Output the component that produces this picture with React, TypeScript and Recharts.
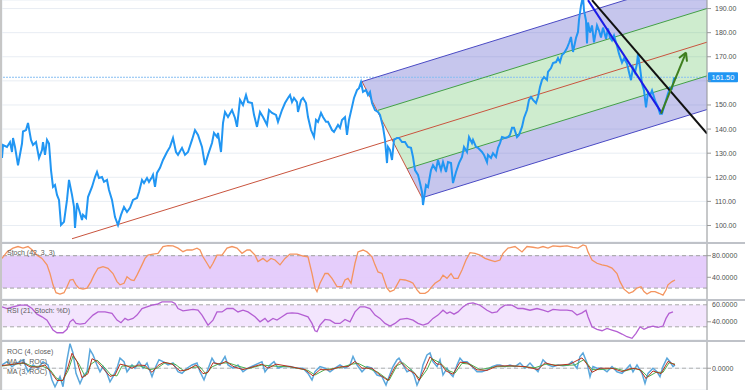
import React from 'react';
import { ComposedChart, Line, Area, XAxis, YAxis, CartesianGrid, ReferenceLine, ReferenceArea } from 'recharts';

const FONT = '"Liberation Sans", Arial, Helvetica, sans-serif';
const BAR_MIN = 2;
const BAR_MAX = 707;

// ---------- axes / grid ----------
const gridBars = [86, 169, 252, 333, 415, 498, 581, 665];
const priceTicks = [100, 110, 120, 130, 140, 150, 160, 170, 180, 190];
const stochTicks = [40, 80];
const rsiTicks = [40, 60];
const rocTicks = [0];
const lastPrice = 161.5;

// ---------- price ----------
const priceBar = [2,3,7,10,12,13,15,18,22,23,26,28,31,33,36,39,42,43,45,47,49,51,53,55,57,59,61,64,67,69,72,74,75,77,80,82,83,86,88,92,95,97,99,102,104,107,109,112,115,118,121,124,127,130,133,137,139,142,144,147,149,152,153,155,157,160,163,167,170,173,176,178,182,185,188,192,195,198,202,205,208,212,214,217,218,221,223,225,228,232,235,237,240,243,246,248,252,254,257,260,263,267,269,272,276,278,282,285,288,290,292,294,297,298,301,303,306,308,311,314,316,318,321,323,326,328,332,334,338,340,342,345,347,349,352,354,357,359,361,363,366,368,370,372,375,378,380,383,385,387,388,390,392,394,397,399,402,405,408,411,413,415,418,420,422,423,426,428,431,433,436,438,441,443,446,448,451,453,456,459,462,464,467,469,472,473,476,478,482,484,487,488,491,493,496,498,500,502,505,508,510,512,514,517,519,522,524,527,529,531,533,536,538,540,542,544,547,548,551,553,556,558,560,562,564,567,569,571,573,576,578,579,581,583,584,586,587,588,590,592,594,597,599,601,603,606,608,610,612,614,617,619,622,624,627,629,631,633,635,637,638,640,642,644,646,648,650,652,655,658,660,662,665,668,670,672,674,677];
const priceClose = [128,133.4,132.6,134.6,130.5,136.3,132.6,125,134,139,139.6,142.5,135.5,133.4,134.6,128,131.3,134.6,129.3,135.5,134,123,116,116.8,112.7,110.6,100.2,101.5,110.6,118.9,112.7,107.7,99,109.3,105.2,102.3,104.4,103.1,111.8,116,120.1,122.2,119.7,120.1,118.1,118.9,114.7,110.6,103.5,100.2,104.4,107.7,105.6,107.3,110.6,111.4,113.9,118.9,117.6,119.7,118.1,120.1,121,116,121.8,123.9,127.2,130.5,132.6,136.3,130.5,129.3,132.2,129.3,130.5,135.5,139.6,137.6,132.6,125.1,129.3,134.2,138.4,136.7,138.4,130.5,142.5,147.1,145,147.9,144.6,140.9,152.1,150,154.1,151.2,150.8,145.9,140.9,147.1,145,141.7,147.9,146.7,145.9,143,147.9,150.8,152.9,154.1,151.2,152.9,151.2,147.1,152,152.9,150.8,145,139.6,136.7,143.8,143,146.7,145,143,143,139.6,138.8,141.7,140.5,143.8,145,137.6,143.8,149.2,152.9,156.2,157,159.5,155.4,156.2,154.1,155.4,150.8,147.9,147.1,145.9,140.9,135.5,125.9,132.6,131.3,127.2,135.5,136.3,136.3,134.6,134.6,132.6,132.2,128.4,123,121,117.6,113.9,108.5,116.8,116,123,125,123,127.2,123,126.3,122.2,126.3,125.9,117.6,122.2,125.9,128.4,132.6,130.5,136.7,134.2,135.5,132.6,132.2,130.5,129.3,126.3,129.3,128,130,128.4,132.2,134.2,136.7,136.3,136.7,137.6,140.5,140.5,136.7,137.6,140.9,144.6,147.9,152.1,153.3,152.1,150.8,153.3,157.5,160.4,161.6,160.4,163.7,165.3,167.4,167.8,169.5,167.8,170.7,171.5,173.6,175.7,178.2,172,177.8,180.3,185.3,191.2,195,189.2,185,175.5,184.2,180,183,176,183,180.9,178,182.1,177.5,181.7,178,176.8,178.8,174.6,171.3,167.6,169.3,167.2,163.6,160.3,165.5,163.4,167.2,171.3,165.5,158.9,156,149,155.2,153.9,156,151.9,149.2,146.4,146.4,150.6,154.7,157.2,156.8,161,161.5];

// ---------- drawings (bar, price) ----------
const forkPivot = [72, 94.5];
const forkHigh = [362, 159.7];
const forkLow = [422, 111.5];
const trendBlue = [[588, 193.5], [662, 146.5]];
const trendBlack = [[592, 193.5], [707, 138.1]];
const arrowShaft = [[661, 146.4], [686, 171.7]];
const arrowWingA = [[679, 169.5], [686, 171.7]];
const arrowWingB = [[686, 171.7], [687, 168.0]];

// ---------- Stoch ----------
const stochBar = [2,7,13,18,23,28,32,37,42,47,50,53,56,60,64,67,70,73,76,79,83,87,91,94,98,103,108,113,117,120,124,127,131,134,137,142,145,148,153,158,163,168,173,178,183,187,192,197,200,203,207,210,213,217,222,227,232,237,242,247,250,255,258,263,267,271,275,280,285,290,297,303,308,312,315,317,320,325,328,332,337,342,345,348,351,355,358,363,367,372,375,378,382,387,390,394,397,400,405,410,413,417,420,425,428,432,435,440,443,447,451,454,458,462,466,470,475,480,485,490,495,500,503,508,515,522,527,533,538,543,548,553,560,567,573,578,583,586,588,592,597,602,607,612,617,620,624,629,633,637,641,644,647,651,655,659,663,666,668,672,675];
const stochK = [75,87,94,97,94,97,91,81,75,63,47,26,11.5,9,11.5,22.6,35,36,26,20,18,20,32,44,56.7,59.6,56.7,47,32,26,29,41,35,34,44,63,75,81,83,84.4,97,98.5,98,94,87.4,90.5,90.5,94,90.5,78,66,56.7,66,81,81,94,97,94,84.4,90.5,90.5,81,69,75,69,75,72,63,75,83,83,79.4,78,47,20,13.5,29,47,47,38,22.6,22.6,35,38,29,66,87,90.5,87,78,63,50,47,20,13.5,16.5,26,36,35,32,29,16.5,10.4,10.4,13.5,22.6,29,35,44,38,47,38,38,53.5,72,85.6,84.4,81,75,72,69,72,84.4,94,97,87,97,95.6,94,97,94,98,97,98,95.6,94,100,98,87,72,66,63,61,57,47,32,18,10.4,13.5,20,22.6,13.5,9,13.5,13.5,10.4,7,16.5,26,32,35];

// ---------- RSI (of Stoch %D) ----------
const rsiBar = [2,7,13,20,27,32,37,42,47,50,53,57,63,67,70,73,76,80,85,88,93,98,105,112,117,121,125,128,133,137,142,147,152,157,162,167,172,175,178,183,188,193,198,202,205,208,213,217,222,227,233,238,243,248,255,260,265,268,273,277,282,287,292,298,303,308,312,315,317,320,325,330,335,340,345,350,355,360,365,370,375,380,385,390,395,400,407,413,418,423,428,433,438,443,447,450,454,458,463,468,473,480,487,492,497,500,505,512,518,523,530,537,543,548,553,560,567,572,577,582,586,588,592,597,602,607,612,617,622,627,632,636,640,644,648,653,658,663,666,669,673];
const rsiVal = [54,52.5,54,55.6,55.6,52.5,47.2,44.7,41.6,36.9,32.2,29.7,29.7,32.9,40,42.2,38.5,37.9,38.5,41.6,46.3,49.3,49.3,47.9,41.6,39.1,43.2,41.6,43.2,46.3,52.5,54,55.6,56.5,58.7,58.7,58.7,57.2,52.5,50.3,50.9,51.6,50.9,46.3,41.6,36.9,41.6,49.3,49.3,52.5,52.5,49.3,50.9,49.3,44.7,40,43.2,40,43.2,41.6,44.7,47.9,48.4,47.9,46.3,44.7,38.5,31.6,30.7,36.9,42.2,41.6,38.5,38.5,42.2,40,49.3,54,54,52.5,46.3,43.2,38.5,36,38.5,42.2,43.2,41.6,38.5,36.9,38.5,43.2,46.3,50.9,47.9,49.3,47.2,49.3,54,57.2,57.8,55.6,50.9,48.4,49.3,52.5,55.6,55.6,52.5,52.5,50.9,52.5,50.9,49.3,51.6,50.9,50.9,50.3,46.3,48.4,50.9,44.7,35.3,32.9,31.6,33.8,32.2,30.7,28.5,26,24.5,29.2,35.3,32.9,34.8,36,34.8,36,43.2,47.9,49.3];

// ---------- ROC ----------
const rocBar = [2,7,12,17,23,28,33,38,43,48,52,55,60,63,67,70,73,76,80,83,87,90,93,97,100,103,107,110,113,117,120,124,127,132,135,139,143,147,152,155,159,163,168,173,178,182,187,192,197,200,204,207,212,215,220,225,228,233,238,243,248,255,262,265,270,274,278,283,290,297,303,308,312,315,320,325,330,335,340,345,350,353,357,362,367,372,377,382,386,389,393,397,399,403,407,411,414,417,420,423,427,430,433,437,440,443,447,450,453,457,460,463,467,472,477,482,487,492,497,500,505,510,515,520,525,530,533,538,543,548,553,558,563,568,572,577,580,583,587,590,593,597,602,607,612,617,622,627,630,633,637,642,645,648,653,657,660,663,667,670,673,675];
const rocVal = [1.2,2.4,0.6,1.9,3.1,-1.3,1.2,0,2.4,1.2,-4.3,-6.8,-3.1,-6.8,3.1,9,5.6,-1.9,-5.6,-3.1,-1.3,6.8,4.9,1.2,-1.3,0.6,-1.9,-5,-3.1,0,3.7,2.4,-1.3,1.2,0,2.4,0,1.9,-3.1,0,3.1,2.4,1.2,1.9,-1.3,-1.9,0,1.2,1.9,-1.3,-4.3,-1.3,3.7,1.9,1.2,4.3,1.2,0,1.2,-1.3,0,1.2,2.4,-1.3,1.2,2.4,0,0.6,0.6,0,0,-1.9,-4.3,-1.3,0.6,0,-1.3,0,1.2,0,1.2,4.3,1.2,-1.3,0.6,0,-2.5,-3.1,-6.2,-3.1,0.6,3.1,3.7,1.2,-1.3,-0.6,-2.5,-6.2,-3.7,1.2,4.9,5.6,2.4,0.6,3.1,-2.5,0,-1.9,-3.1,1.2,3.7,2.4,2.4,0.6,-1.3,-1.3,-0.6,0.6,1.2,1.2,0.6,1.2,0.6,1.9,0,1.9,0.6,-1.3,3.1,1.2,0.6,1.2,0.9,1.2,2.4,0,4.3,5.6,1.9,-3.1,0.6,0,0,-1.3,0.6,-1.3,-1.9,0,1.2,-1.3,1.2,-1.9,-5.6,-1.9,0,-1.3,-3.1,0.6,3.7,2.4,0.6,1.2];
const maRedBar = [2,12,23,30,38,45,52,57,63,68,72,77,82,88,92,97,103,110,115,120,126,132,138,145,152,158,164,172,180,188,196,203,208,213,220,226,234,243,250,262,268,276,290,305,313,320,330,340,348,355,362,372,380,388,395,400,408,415,419,425,430,437,441,446,453,460,467,477,487,497,510,525,538,545,555,570,582,588,592,600,612,622,632,640,646,653,661,668,675];
const maRedVal = [1,1.4,2,0.5,0.4,1.2,-2,-4.5,-4.5,0.5,5.5,2.5,-3.5,-2,3.5,2.5,0,-3,-2.5,1.5,1,0,1.2,1,-1.5,1,2.2,1.5,-1,-0.5,1.2,-2,-1.5,2,1.5,2.5,0.5,-0.5,0.2,1.5,0,1.5,0.6,-0.5,-2.8,-0.5,-0.6,0.5,0.6,2.5,0,0,-2.5,-4.5,0.5,2.5,-0.5,-2,-4.5,0,4.2,1.5,1.5,-1,-2.2,2.2,2,-0.6,-0.8,0.8,0.9,0.6,-0.5,2,1,1.5,3.8,1,-1.5,0,0,-1.2,0,-0.5,-3.8,-1,-2,2.5,1.2];
const maGreenBar = [2,15,25,33,42,50,56,62,68,73,79,85,91,97,104,111,117,122,130,140,150,157,165,175,184,192,200,206,212,220,228,238,248,262,272,290,308,315,325,340,352,358,368,378,389,397,403,412,420,427,432,440,448,455,462,470,480,495,515,535,546,560,575,584,592,600,615,625,635,642,648,656,663,669,675];
const maGreenVal = [0.8,1.5,1.8,0.6,0.8,-0.5,-3.5,-4.8,-1,4.5,1.5,-3,1.5,3,0.5,-2.5,-2.8,0.8,0.8,0.8,-0.5,0,2,1.5,-1,0.3,0.5,-2.2,0.5,1.8,2,0.8,-0.2,1.2,0.8,0.5,-0.8,-2.5,-0.5,0.2,1.5,1.8,0,-1.5,-4.5,1,2,-0.8,-4,-0.5,3.5,2,-0.8,-1.8,1.8,1.5,-0.5,0.5,0.8,0.2,1.5,1,1.2,3.2,-0.5,-0.5,0,-1,0,-1,-3.2,-1.5,-1.5,2,1.5];

// ---------- build rows ----------
function buildMainRows() {
  const priceMap = new Map<number, number>();
  priceBar.forEach((b, i) => priceMap.set(b, priceClose[i]));
  const [ax, ay] = forkPivot;
  const [bx, by] = forkHigh;
  const [cx, cy] = forkLow;
  const mx = (bx + cx) / 2;
  const my = (by + cy) / 2;
  const slope = (my - ay) / (mx - ax);
  const med = (d: number) => ay + slope * (d - ax);
  const upT = (d: number) => by + slope * (d - bx);
  const loT = (d: number) => cy + slope * (d - cx);
  const edgeAt = (d: number) => (d < cx ? by + ((cy - by) * (d - bx)) / (cx - bx) : -Infinity);
  const seg = (pts: number[][], key: string, rowsMap: Map<number, any>) => {
    pts.forEach(([b, v]) => {
      rowsMap.get(b)[key] = v;
    });
  };
  const rows: any[] = [];
  const rowsMap = new Map<number, any>();
  for (let b = BAR_MIN; b <= BAR_MAX; b++) {
    const r: any = { bar: b };
    if (priceMap.has(b)) r.close = priceMap.get(b);
    if (b >= ax) r.median = med(b);
    if (b >= bx) {
      const u = upT(b);
      const l = loT(b);
      const m = med(b);
      const ug = (u + m) / 2;
      const lg = (m + l) / 2;
      const edge = edgeAt(b);
      const band = (lo: number, hi: number) => {
        const a = Math.max(lo, edge);
        return a < hi ? [a, hi] : undefined;
      };
      r.upperTine = u;
      if (b >= cx) r.lowerTine = l;
      if (ug >= edge) r.upperGreen = ug;
      if (lg >= edge) r.lowerGreen = lg;
      r.bandTop = band(ug, u);
      r.bandMid = band(lg, ug);
      r.bandBot = band(l, lg);
    }
    rows.push(r);
    rowsMap.set(b, r);
  }
  seg([forkHigh, forkLow], 'edgeBC', rowsMap);
  seg(trendBlue, 'trendBlue', rowsMap);
  seg(trendBlack, 'trendBlack', rowsMap);
  seg(arrowShaft, 'arrowShaft', rowsMap);
  seg(arrowWingA, 'arrowWingA', rowsMap);
  seg(arrowWingB, 'arrowWingB', rowsMap);
  return rows;
}

function pairRows(bars: number[], vals: number[], key: string) {
  return bars.map((b, i) => ({ bar: b, [key]: vals[i] }));
}

function buildRocRows() {
  const m = new Map<number, any>();
  const add = (bars: number[], vals: number[], key: string) => {
    bars.forEach((b, i) => {
      if (!m.has(b)) m.set(b, { bar: b });
      m.get(b)[key] = vals[i];
    });
  };
  add(rocBar, rocVal, 'roc');
  add(maRedBar, maRedVal, 'maA');
  add(maGreenBar, maGreenVal, 'maB');
  return Array.from(m.values()).sort((a, b) => a.bar - b.bar);
}

const mainRows = buildMainRows();
const stochRows = pairRows(stochBar, stochK, 'k');
const rsiRows = pairRows(rsiBar, rsiVal, 'rsi');
const rocRows = buildRocRows();

const GRID = '#e8edf3';
const AXIS = '#9a9a9a';
const tickStyle = { fontSize: 7, fill: '#505050', fontFamily: FONT };
const MARGIN = { top: 0, right: 0, bottom: 0, left: 2 };

const xAxis = (
  <XAxis
    type="number"
    dataKey="bar"
    domain={[BAR_MIN, BAR_MAX]}
    ticks={gridBars}
    allowDataOverflow
    height={0}
    tick={false}
    axisLine={false}
    tickLine={false}
  />
);

const PriceTag = (props: any) => {
  const vb = props.viewBox || {};
  const x = (vb.x || 0) + (vb.width || 0) + 1;
  const y = vb.y || 0;
  return (
    <g>
      <rect x={x} y={y - 5} width={30} height={10} rx={1} fill="#2196f3" />
      <text x={x + 15} y={y} dy="0.35em" textAnchor="middle" fontSize={7.5} fill="#ffffff" fontFamily={FONT}>
        {lastPrice.toFixed(2)}
      </text>
    </g>
  );
};

// RSI tick: the top label sits on the pane border; nudge it so it stays readable
const RsiTick = (props: any) => {
  const v = props.payload?.value;
  const dy = v === 60 ? 4 : 0;
  return (
    <text x={props.x} y={props.y + dy} dy="0.355em" textAnchor="start" fontSize={7} fill="#505050" fontFamily={FONT}>
      {Number(v).toFixed(4)}
    </text>
  );
};

const lineProps = { dot: false, activeDot: false, isAnimationActive: false, connectNulls: true } as any;

const labelStyle: React.CSSProperties = {
  position: 'absolute',
  left: 7,
  fontSize: 7,
  lineHeight: '9px',
  color: '#5a5a5a',
  fontFamily: FONT,
  whiteSpace: 'nowrap',
  zIndex: 5,
};

export default function App() {
  return (
    <div style={{ position: 'absolute', left: 0, top: 0, width: 745, height: 390, background: '#ffffff', overflow: 'hidden' }}>
      {/* main price pane */}
      <div style={{ position: 'absolute', left: 0, top: 0 }}>
        <ComposedChart width={745} height={242} data={mainRows} margin={MARGIN}>
          <CartesianGrid stroke={GRID} />
          {xAxis}
          <YAxis
            orientation="right"
            width={38}
            domain={[93.15, 193.55]}
            allowDataOverflow
            ticks={priceTicks}
            interval={0}
            tickFormatter={(v: number) => (v === 160 ? '' : v.toFixed(2))}
            tick={tickStyle}
            tickSize={4}
            tickMargin={4}
            axisLine={{ stroke: AXIS }}
            tickLine={{ stroke: AXIS }}
          />
          <Area dataKey="bandTop" stroke="none" fill="#6a6ad0" fillOpacity={0.38} isAnimationActive={false} dot={false} activeDot={false} />
          <Area dataKey="bandMid" stroke="none" fill="#5cbf5c" fillOpacity={0.3} isAnimationActive={false} dot={false} activeDot={false} />
          <Area dataKey="bandBot" stroke="none" fill="#6a6ad0" fillOpacity={0.38} isAnimationActive={false} dot={false} activeDot={false} />
          <ReferenceLine y={lastPrice} stroke="#86bff2" strokeDasharray="2 1" strokeWidth={1.2} label={(p: any) => <PriceTag {...p} />} />
          <Line dataKey="median" stroke="#c9543e" strokeWidth={1} {...lineProps} />
          <Line dataKey="upperTine" stroke="#4a4ac4" strokeWidth={1} {...lineProps} />
          <Line dataKey="lowerTine" stroke="#4a4ac4" strokeWidth={1} {...lineProps} />
          <Line dataKey="upperGreen" stroke="#43a047" strokeWidth={1} {...lineProps} />
          <Line dataKey="lowerGreen" stroke="#43a047" strokeWidth={1} {...lineProps} />
          <Line dataKey="edgeBC" stroke="#c9543e" strokeWidth={1} {...lineProps} />
          <Line dataKey="close" stroke="#2196f3" strokeWidth={2} {...lineProps} />
          <Line dataKey="trendBlue" stroke="#1c1ce6" strokeWidth={2} {...lineProps} />
          <Line dataKey="trendBlack" stroke="#111111" strokeWidth={2} {...lineProps} />
          <Line dataKey="arrowShaft" stroke="#3f7f1f" strokeWidth={2} {...lineProps} />
          <Line dataKey="arrowWingA" stroke="#3f7f1f" strokeWidth={2} {...lineProps} />
          <Line dataKey="arrowWingB" stroke="#3f7f1f" strokeWidth={2} {...lineProps} />
        </ComposedChart>
      </div>

      {/* RSI pane */}
      <div style={{ position: 'absolute', left: 0, top: 300 }}>
        <ComposedChart width={745} height={40} data={rsiRows} margin={MARGIN}>
          <CartesianGrid stroke={GRID} />
          {xAxis}
          <YAxis
            orientation="right"
            width={38}
            domain={[22.9, 60.5]}
            allowDataOverflow
            ticks={rsiTicks}
            interval={0}
            tick={(p: any) => <RsiTick {...p} />}
            tickSize={4}
            tickMargin={1}
            axisLine={{ stroke: AXIS }}
            tickLine={{ stroke: AXIS }}
          />
          <ReferenceArea y1={35.3} y2={56} fill="#f3e5fd" fillOpacity={1} stroke="none" />
          <ReferenceLine y={56} stroke="#a9a9a9" strokeDasharray="4 3" />
          <ReferenceLine y={35.3} stroke="#a9a9a9" strokeDasharray="4 3" />
          <Line dataKey="rsi" stroke="#b45fd3" strokeWidth={1.3} {...lineProps} />
        </ComposedChart>
      </div>

      {/* Stoch pane */}
      <div style={{ position: 'absolute', left: 0, top: 243 }}>
        <ComposedChart width={745} height={56} data={stochRows} margin={MARGIN}>
          <CartesianGrid stroke={GRID} />
          {xAxis}
          <YAxis
            orientation="right"
            width={38}
            domain={[-0.2, 103.5]}
            allowDataOverflow
            ticks={stochTicks}
            interval={0}
            tickFormatter={(v: number) => v.toFixed(4)}
            tick={tickStyle}
            tickSize={4}
            tickMargin={1}
            axisLine={{ stroke: AXIS }}
            tickLine={{ stroke: AXIS }}
          />
          <ReferenceArea y1={20} y2={80} fill="#e3c9fb" fillOpacity={0.92} stroke="none" />
          <ReferenceLine y={80} stroke="#a0a0a0" strokeDasharray="4 3" />
          <ReferenceLine y={20} stroke="#a0a0a0" strokeDasharray="4 3" />
          <Line dataKey="k" stroke="#f4945f" strokeWidth={1.3} {...lineProps} />
        </ComposedChart>
      </div>

      {/* ROC pane */}
      <div style={{ position: 'absolute', left: 0, top: 341 }}>
        <ComposedChart width={745} height={49} data={rocRows} margin={MARGIN}>
          <CartesianGrid stroke={GRID} />
          {xAxis}
          <YAxis
            orientation="right"
            width={38}
            domain={[-8, 10]}
            allowDataOverflow
            ticks={rocTicks}
            interval={0}
            tickFormatter={(v: number) => v.toFixed(4)}
            tick={tickStyle}
            tickSize={4}
            tickMargin={1}
            axisLine={{ stroke: AXIS }}
            tickLine={{ stroke: AXIS }}
          />
          <ReferenceLine y={0} stroke="#b0b0b0" strokeDasharray="4 3" />
          <Line dataKey="roc" stroke="#5aa7dc" strokeWidth={1.5} {...lineProps} />
          <Line dataKey="maB" stroke="#4caf50" strokeWidth={1} {...lineProps} />
          <Line dataKey="maA" stroke="#b8321f" strokeWidth={1} {...lineProps} />
        </ComposedChart>
      </div>

      {/* pane separators and left border */}
      <div style={{ position: 'absolute', left: 0, top: 241.5, width: 745, height: 2, background: '#bfc2c8' }} />
      <div style={{ position: 'absolute', left: 0, top: 298.5, width: 745, height: 2, background: '#bfc2c8' }} />
      <div style={{ position: 'absolute', left: 0, top: 339.5, width: 745, height: 2, background: '#bfc2c8' }} />
      <div style={{ position: 'absolute', left: 0, top: 0, width: 2, height: 390, background: '#c6c6c6' }} />

      {/* pane titles */}
      <div style={{ ...labelStyle, top: 248 }}>Stoch (42, 3, 3)</div>
      <div style={{ ...labelStyle, top: 306 }}>RSI (21, Stoch: %D)</div>
      <div style={{ ...labelStyle, top: 347 }}>ROC (4, close)</div>
      <div style={{ ...labelStyle, top: 357 }}>MA (4, ROC)</div>
      <div style={{ ...labelStyle, top: 367 }}>MA (3, ROC)</div>
    </div>
  );
}
